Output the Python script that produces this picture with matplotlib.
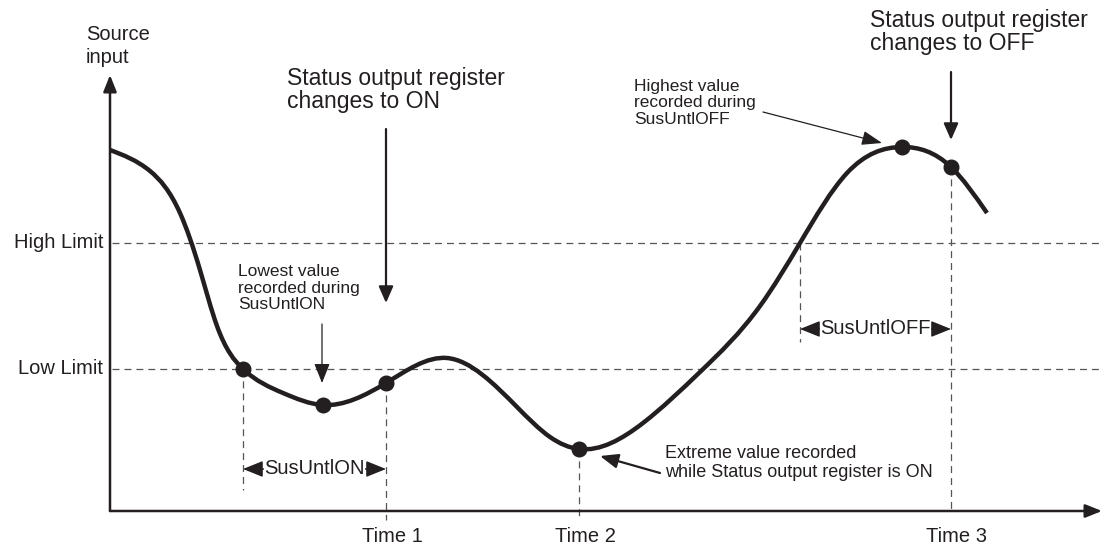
import numpy as np
import matplotlib.pyplot as plt
from matplotlib.path import Path
from matplotlib.patches import PathPatch

plt.rcParams['font.family'] = ['Liberation Sans', 'DejaVu Sans']
plt.rcParams['lines.scale_dashes'] = False

# source input curve (time, value)
curve_t = [0, 40, 70, 90, 107, 133, 173, 213, 276, 337, 407, 440, 469, 533, 590, 650,
           690, 737, 792, 841, 877]
curve_v = [361, 340, 298, 241, 185, 142, 118, 106, 128, 153, 104, 74, 62, 88, 139, 205,
           268, 338, 364, 344, 298]

high_limit = 268
low_limit = 142

# recorded points
dot_t = [133, 213, 276, 469, 792, 841]
dot_v = [142, 106, 128, 62, 364, 344]

time_labels = ['Time 1', 'Time 2', 'Time 3']
time_t = [276, 469, 841]

sus_on = (133, 276)
sus_off = (690, 841)

ink = '#231f20'
grey = '#555555'

fig = plt.figure(figsize=(11.1, 5.48), dpi=100)
ax = fig.add_axes([0, 0, 1, 1])
ax.set_xlim(-110, 1000)
ax.set_ylim(-37, 511)
ax.axis('off')


def smooth_path(xs, ys):
    # natural cubic spline through the points, handed over as bezier segments
    x = np.asarray(xs, float)
    y = np.asarray(ys, float)
    n = len(x)
    h = np.diff(x)
    A = np.zeros((n, n))
    r = np.zeros(n)
    A[0, 0] = A[-1, -1] = 1
    for i in range(1, n - 1):
        A[i, i - 1] = h[i - 1]
        A[i, i] = 2 * (h[i - 1] + h[i])
        A[i, i + 1] = h[i]
        r[i] = 6 * ((y[i + 1] - y[i]) / h[i] - (y[i] - y[i - 1]) / h[i - 1])
    M = np.linalg.solve(A, r)
    m = np.empty(n)
    m[:-1] = (y[1:] - y[:-1]) / h - h * (2 * M[:-1] + M[1:]) / 6
    m[-1] = (y[-1] - y[-2]) / h[-1] + h[-1] * (M[-2] + 2 * M[-1]) / 6
    verts = [(x[0], y[0])]
    codes = [Path.MOVETO]
    for i in range(n - 1):
        verts += [(x[i] + h[i] / 3, y[i] + m[i] * h[i] / 3),
                  (x[i + 1] - h[i] / 3, y[i + 1] - m[i + 1] * h[i] / 3),
                  (x[i + 1], y[i + 1])]
        codes += [Path.CURVE4] * 3
    return Path(verts, codes)


def arrow(start, end, lw=1.5, style='-|>,head_length=0.5,head_width=0.22'):
    ax.annotate('', xy=end, xytext=start,
                arrowprops=dict(arrowstyle=style, lw=lw, color=ink,
                                mutation_scale=20, shrinkA=0, shrinkB=0))


# axes
arrow((0, 0), (0, 436), lw=1.8, style='-|>,head_length=0.5,head_width=0.2')
arrow((0, 0), (992, 0), lw=1.8, style='-|>,head_length=0.5,head_width=0.2')

# limits
dash = (0, (5, 3.6))
for lim, lab in [(high_limit, 'High Limit'), (low_limit, 'Low Limit')]:
    ax.plot([2, 990], [lim, lim], color=grey, lw=0.9, ls=dash)
    ax.text(-7, lim, lab, ha='right', va='center', fontsize=14.5, color=ink)

# vertical guides
guides = [(133, 142, 21), (276, 128, -9), (469, 62, -6), (690, 268, 169), (841, 344, 0)]
for t, v0, v1 in guides:
    ax.plot([t, t], [v0, v1], color=grey, lw=0.9, ls=dash)

# curve and dots
ax.add_patch(PathPatch(smooth_path(curve_t, curve_v), fill=False, lw=3.2,
                       edgecolor=ink, capstyle='butt', zorder=3))
ax.plot(dot_t, dot_v, 'o', color=ink, ms=10.5, zorder=4)

# time labels
for lab, t in zip(time_labels, time_t):
    ax.text(t + 6, -26, lab, ha='center', va='center', fontsize=14.5, color=ink)

# sustain brackets
for (a, b), lab, y in [(sus_on, 'SusUntlON', 42), (sus_off, 'SusUntlOFF', 182)]:
    arrow((a, y), (b, y), lw=1.0, style='<|-|>,head_length=0.62,head_width=0.25')
    ax.text((a + b) / 2, y, lab, ha='center', va='center', fontsize=14.5, color=ink,
            zorder=5, bbox=dict(fc='white', ec='none', pad=0))

# annotations
ax.text(-24, 465, 'Source\ninput', ha='left', va='center', fontsize=14.5,
        color=ink, linespacing=1.25)
ax.text(177, 421, 'Status output register\nchanges to ON', ha='left', va='center',
        fontsize=16.5, color=ink, linespacing=0.95)
ax.text(760, 479, 'Status output register\nchanges to OFF', ha='left', va='center',
        fontsize=16.5, color=ink, linespacing=0.95)
arrow((276, 382), (276, 208), lw=1.6)
arrow((841, 439), (841, 371), lw=1.6)

ax.text(128, 223, 'Lowest value\nrecorded during\nSusUntlON', ha='left', va='center',
        fontsize=12.5, color=ink, linespacing=1.1)
arrow((212, 187), (212, 128), lw=0.9, style='-|>,head_length=0.6,head_width=0.24')

ax.text(524, 408, 'Highest value\nrecorded during\nSusUntlOFF', ha='left', va='center',
        fontsize=12.5, color=ink, linespacing=1.1)
arrow((653, 399), (772, 368), lw=0.9, style='-|>,head_length=0.62,head_width=0.22')

ax.text(555, 48, 'Extreme value recorded\nwhile Status output register is ON', ha='left',
        va='center', fontsize=13, color=ink, linespacing=1.1)
arrow((550, 38), (490, 55), lw=1.6, style='-|>,head_length=0.55,head_width=0.22')

plt.savefig('out.png', dpi=100)
